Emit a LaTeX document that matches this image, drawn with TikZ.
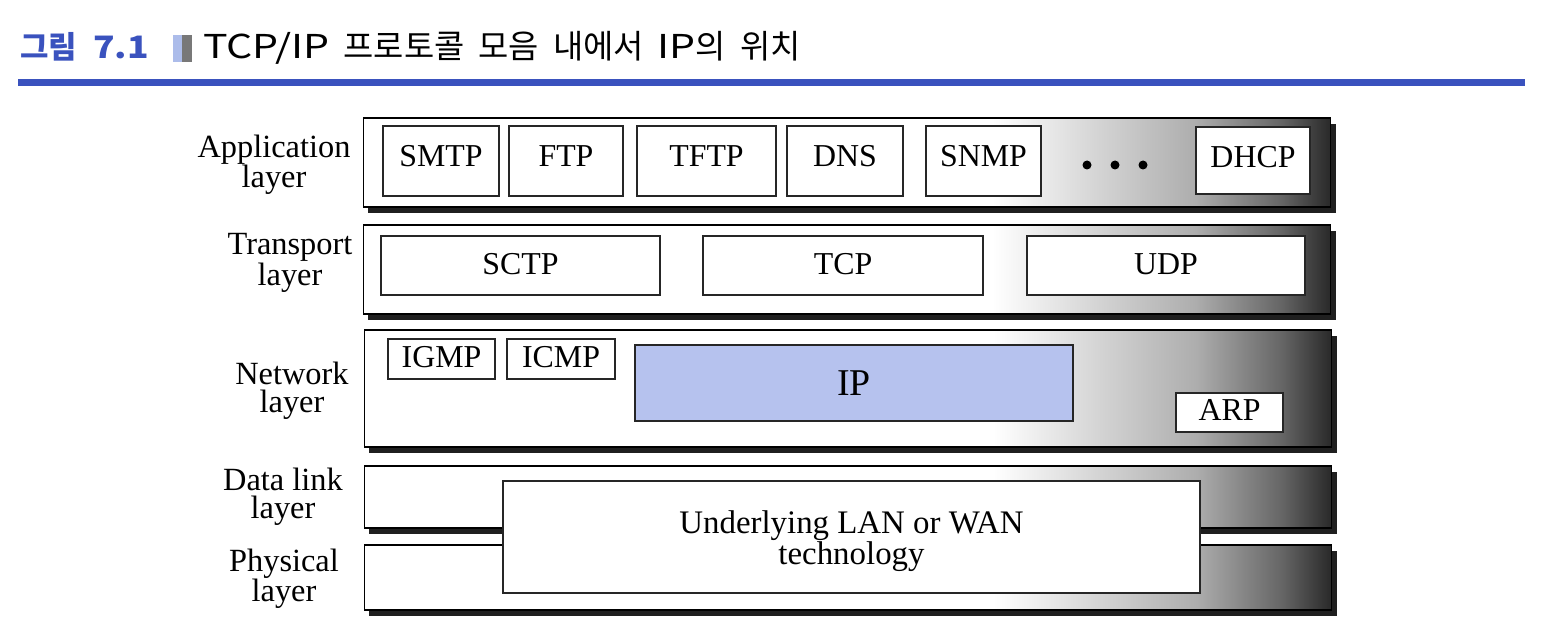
\documentclass[tikz,border=0pt]{standalone}
\usepackage{graphicx}
\usepackage{fontspec}
\setmainfont{Liberation Serif}
\newfontfamily\krfont{Noto Sans CJK KR}
\usetikzlibrary{shadows}
\definecolor{titleblue}{RGB}{58,82,190}
\definecolor{ipblue}{RGB}{182,194,238}
\definecolor{barlight}{RGB}{172,188,234}
\definecolor{bargray}{RGB}{120,120,120}
\pgfdeclarehorizontalshading{layershade}{100bp}{color(0bp)=(white); color(25bp)=(white); color(57.5bp)=(white); color(63bp)=(black!17); color(68bp)=(black!32); color(72.4bp)=(black!60); color(75bp)=(black!84); color(100bp)=(black!84)}
\tikzset{
  layer/.style={draw=black, line width=1.3bp, shade, shading=layershade, inner sep=0pt,
    minimum width=967bp,
    drop shadow={shadow xshift=5bp, shadow yshift=-6bp, fill=black!88, opacity=1}},
  proto/.style={draw=black!85, line width=1.2bp, fill=white, inner sep=0pt,
    text height=20bp, text depth=4bp,
    font=\fontsize{32}{34}\selectfont},
  appproto/.style={proto, minimum height=70bp, text height=17bp, text depth=5bp},
  tproto/.style={proto, minimum height=59bp, text height=22bp, text depth=4bp},
  lbl/.style={align=center, inner sep=0pt, font=\fontsize{32.5}{28}\selectfont},
  dot/.style={circle, fill=black, inner sep=0pt, minimum size=9bp},
}
\begin{document}
\begin{tikzpicture}[x=1bp,y=-1bp]
\useasboundingbox (0,0) rectangle (1548,644);
\fill[white] (0,0) rectangle (1548,644);
% title
\node[anchor=west, inner sep=0pt, text=titleblue, font=\krfont\bfseries\fontsize{31}{33}\selectfont] (fig) at (20,47) {그림\hspace{16bp}\scalebox{1.15}[1]{7.1}};
\fill[barlight] (173,35) rectangle (182,62);
\fill[bargray] (182,35) rectangle (192,62);
\node[anchor=west, inner sep=0pt, font=\krfont\fontsize{33}{35}\selectfont] (title) at (203,48) {\scalebox{1.25}[1]{TCP/IP}\hspace{14bp}프로토콜\hspace{14bp}모음\hspace{14bp}내에서\hspace{14bp}\scalebox{1.25}[1]{IP}의\hspace{14bp}위치};
\fill[titleblue] (18,79) rectangle (1525,86);
% layers
\node[layer, minimum height=89bp] (app) at (847,162.5) {};
\node[layer, minimum height=89bp] (trans) at (847,269.5) {};
\node[layer, minimum height=117bp] (net) at (848,388.5) {};
\node[layer, minimum height=62bp] (dl) at (848,497) {};
\node[layer, minimum height=65bp] (phy) at (848,577.5) {};
% labels
\node[lbl] (lapp) at (274,165) {Application\\layer};
\node[lbl] (ltrans) at (290,263) {Transport\\layer};
\node[lbl] (lnet) at (292,391) {Network\\layer};
\node[lbl] (ldl) at (283,497) {Data link\\layer};
\node[lbl] (lphy) at (284,579) {Physical\\layer};
% application protocols
\node[appproto, minimum width=116bp] (smtp) at (441,161) {SMTP};
\node[appproto, minimum width=114bp] (ftp) at (566,161) {FTP};
\node[appproto, minimum width=139bp] (tftp) at (706.5,161) {TFTP};
\node[appproto, minimum width=116bp] (dns) at (845,161) {DNS};
\node[appproto, minimum width=115bp] (snmp) at (983.5,161) {SNMP};
\node[dot] (d1) at (1087,165) {};
\node[dot] (d2) at (1115,165) {};
\node[dot] (d3) at (1143,165) {};
\node[proto, minimum width=114bp, minimum height=67bp, text height=19bp] (dhcp) at (1253,160.5) {DHCP};
% transport protocols
\node[tproto, minimum width=279bp] (sctp) at (520.5,265.5) {SCTP};
\node[tproto, minimum width=280bp] (tcp) at (843,265.5) {TCP};
\node[tproto, minimum width=278bp] (udp) at (1166,265.5) {UDP};
% network protocols
\node[proto, minimum width=107bp, minimum height=40bp] (igmp) at (441.5,359) {IGMP};
\node[proto, minimum width=108bp, minimum height=40bp] (icmp) at (561,359) {ICMP};
\node[proto, fill=ipblue, minimum width=438bp, minimum height=76bp, text height=24bp, text depth=0bp, font=\fontsize{38}{40}\selectfont] (ip) at (854,383) {IP};
\node[proto, minimum width=107bp, minimum height=39bp] (arp) at (1229.5,412.5) {ARP};
% underlying
\node[proto, minimum width=697bp, minimum height=112bp] (under) at (851.5,537) {};
\node[align=center, inner sep=0pt, font=\fontsize{33}{30}\selectfont] (undertext) at ([yshift=-4bp]under.center) {Underlying LAN or WAN\\technology};
\end{tikzpicture}
\end{document}
